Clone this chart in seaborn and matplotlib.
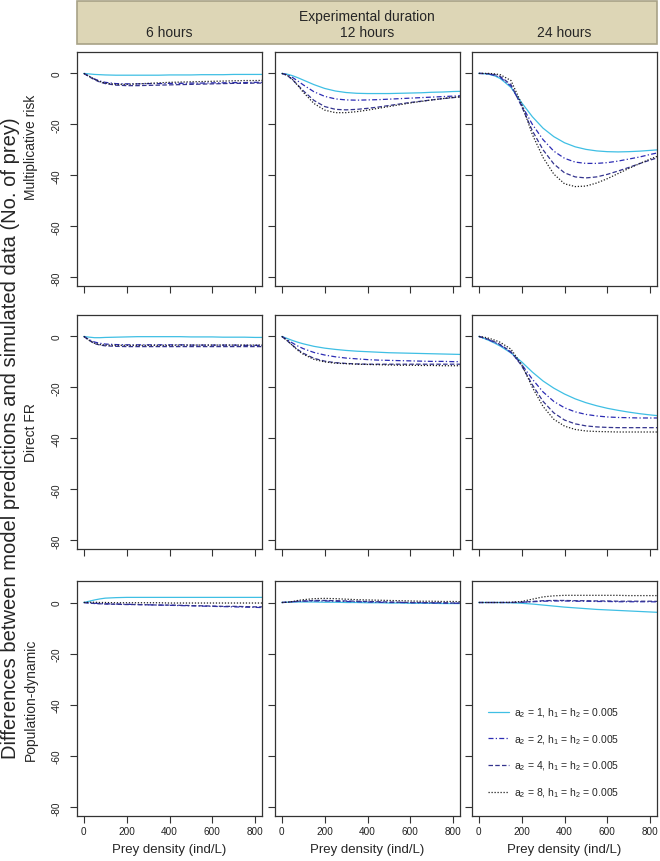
import numpy as np
import pandas as pd
import seaborn as sns
import matplotlib.pyplot as plt
from matplotlib.patches import Rectangle

# prey density grid (ind/L)
density = [0, 25, 50, 75, 100, 150, 200, 250, 300, 350, 400, 450, 500, 550, 600, 650, 700, 750, 800, 850]

durations = ["6 hours", "12 hours", "24 hours"]
models = ["Multiplicative risk", "Direct FR", "Population-dynamic"]
series = ["a2=1", "a2=2", "a2=4", "a2=8"]
series_labels = [r"a$_2$ = 1, h$_1$ = h$_2$ = 0.005",
                 r"a$_2$ = 2, h$_1$ = h$_2$ = 0.005",
                 r"a$_2$ = 4, h$_1$ = h$_2$ = 0.005",
                 r"a$_2$ = 8, h$_1$ = h$_2$ = 0.005"]

# Multiplicative risk
mr_6h_a1 = [0, -0.2, -0.4, -0.5, -0.6, -0.7, -0.7, -0.7, -0.7, -0.7, -0.6, -0.6, -0.6, -0.5, -0.5, -0.5, -0.4, -0.4, -0.4, -0.4]
mr_6h_a2 = [0, -1.2, -2.2, -3.0, -3.5, -4.0, -4.1, -4.1, -4.0, -4.0, -3.9, -3.9, -3.8, -3.8, -3.7, -3.7, -3.6, -3.6, -3.5, -3.5]
mr_6h_a4 = [0, -1.3, -2.5, -3.4, -4.0, -4.6, -4.8, -4.8, -4.7, -4.6, -4.5, -4.4, -4.3, -4.2, -4.1, -4.0, -3.9, -3.9, -3.8, -3.8]
mr_6h_a8 = [0, -1.1, -2.3, -3.2, -3.8, -4.3, -4.3, -4.1, -3.9, -3.7, -3.5, -3.4, -3.3, -3.2, -3.1, -3.0, -2.9, -2.8, -2.8, -2.7]

mr_12h_a1 = [0, -0.3, -0.9, -1.7, -2.6, -4.4, -5.9, -6.9, -7.5, -7.8, -7.9, -7.9, -7.9, -7.8, -7.7, -7.6, -7.4, -7.3, -7.1, -7.0]
mr_12h_a2 = [0, -0.5, -1.6, -3.0, -4.5, -7.2, -9.0, -10.0, -10.4, -10.5, -10.4, -10.3, -10.1, -9.9, -9.7, -9.5, -9.3, -9.1, -8.9, -8.7]
mr_12h_a4 = [0, -0.8, -2.5, -4.6, -6.8, -10.6, -13.0, -14.1, -14.3, -14.1, -13.7, -13.2, -12.6, -12.0, -11.4, -10.9, -10.4, -9.9, -9.5, -9.1]
mr_12h_a8 = [0, -0.7, -2.4, -4.8, -7.4, -11.8, -14.4, -15.4, -15.4, -15.0, -14.4, -13.7, -13.0, -12.3, -11.6, -11.0, -10.4, -9.9, -9.4, -9.0]

mr_24h_a1 = [0, -0.1, -0.4, -1.0, -2.0, -5.5, -11.5, -17.0, -21.5, -24.8, -27.2, -28.8, -29.8, -30.4, -30.7, -30.8, -30.7, -30.5, -30.2, -29.9]
mr_24h_a2 = [0, -0.1, -0.3, -0.8, -1.6, -5.0, -12.5, -20.0, -26.0, -30.5, -33.3, -34.8, -35.3, -35.3, -35.0, -34.4, -33.6, -32.8, -31.8, -30.9]
mr_24h_a4 = [0, 0, -0.2, -0.5, -1.2, -4.4, -13.0, -22.5, -30.0, -35.5, -39.0, -40.6, -41.0, -40.6, -39.6, -38.3, -36.9, -35.4, -34.0, -32.7]
mr_24h_a8 = [0, 0, 0, -0.2, -0.5, -2.8, -12.0, -24.0, -33.0, -39.5, -43.3, -44.4, -44.2, -43.0, -41.3, -39.3, -37.3, -35.4, -33.6, -32.0]

# Direct FR
fr_6h_a1 = [0, -0.3, -0.5, -0.5, -0.4, -0.3, -0.2, -0.1, -0.1, -0.1, -0.1, -0.1, -0.2, -0.2, -0.2, -0.3, -0.3, -0.3, -0.4, -0.4]
fr_6h_a2 = [0, -1.3, -2.2, -2.7, -3.0, -3.2, -3.3, -3.3, -3.3, -3.3, -3.3, -3.3, -3.4, -3.4, -3.4, -3.4, -3.4, -3.5, -3.5, -3.5]
fr_6h_a4 = [0, -1.6, -2.8, -3.4, -3.7, -3.9, -4.0, -4.0, -4.0, -4.0, -4.0, -4.0, -4.0, -4.0, -4.0, -4.0, -4.0, -4.0, -4.0, -4.0]
fr_6h_a8 = [0, -1.5, -2.7, -3.2, -3.4, -3.5, -3.5, -3.5, -3.5, -3.5, -3.5, -3.4, -3.4, -3.4, -3.4, -3.4, -3.4, -3.4, -3.4, -3.4]

fr_12h_a1 = [0, -0.8, -1.6, -2.3, -2.9, -3.9, -4.6, -5.1, -5.5, -5.8, -6.0, -6.2, -6.4, -6.5, -6.6, -6.7, -6.8, -6.9, -7.0, -7.1]
fr_12h_a2 = [0, -1.3, -2.6, -3.8, -4.8, -6.3, -7.3, -8.0, -8.5, -8.8, -9.1, -9.3, -9.4, -9.5, -9.6, -9.7, -9.8, -9.8, -9.9, -9.9]
fr_12h_a4 = [0, -1.7, -3.5, -5.2, -6.6, -8.6, -9.7, -10.3, -10.6, -10.8, -10.9, -10.9, -10.9, -10.9, -10.9, -10.9, -10.9, -10.9, -10.9, -10.9]
fr_12h_a8 = [0, -1.6, -3.6, -5.5, -7.0, -9.0, -10.0, -10.5, -10.7, -10.9, -11.0, -11.1, -11.2, -11.3, -11.3, -11.4, -11.4, -11.5, -11.5, -11.5]

fr_24h_a1 = [0, -0.8, -1.7, -2.7, -3.8, -6.5, -10.0, -14.0, -17.5, -20.3, -22.6, -24.5, -26.0, -27.2, -28.2, -29.0, -29.7, -30.3, -30.8, -31.2]
fr_24h_a2 = [0, -0.7, -1.5, -2.4, -3.4, -6.3, -11.0, -16.8, -21.8, -25.5, -28.0, -29.6, -30.6, -31.2, -31.6, -31.8, -31.9, -32.0, -32.0, -32.0]
fr_24h_a4 = [0, -0.6, -1.3, -2.2, -3.2, -6.0, -11.5, -19.0, -25.5, -30.0, -32.8, -34.3, -35.1, -35.5, -35.7, -35.8, -35.8, -35.8, -35.8, -35.8]
fr_24h_a8 = [0, -0.3, -0.8, -1.5, -2.3, -5.0, -11.0, -20.0, -27.5, -32.5, -35.2, -36.5, -37.1, -37.3, -37.4, -37.5, -37.5, -37.5, -37.5, -37.5]

# Population-dynamic
pd_6h_a1 = [0, 0.5, 1.0, 1.4, 1.7, 1.9, 2.0, 2.0, 2.0, 2.0, 2.0, 2.0, 2.0, 2.0, 2.0, 2.0, 2.0, 2.0, 2.0, 2.0]
pd_6h_a2 = [0, -0.2, -0.3, -0.4, -0.5, -0.6, -0.7, -0.8, -0.9, -1.0, -1.1, -1.2, -1.3, -1.4, -1.5, -1.6, -1.7, -1.8, -1.9, -2.0]
pd_6h_a4 = [0, -0.2, -0.4, -0.5, -0.6, -0.7, -0.8, -0.8, -0.9, -1.0, -1.0, -1.1, -1.2, -1.3, -1.4, -1.5, -1.5, -1.6, -1.7, -1.7]
pd_6h_a8 = [0, 0.1, 0.1, 0.0, 0.0, -0.1, -0.1, -0.1, -0.1, -0.1, -0.2, -0.2, -0.2, -0.2, -0.2, -0.2, -0.2, -0.2, -0.2, -0.2]

pd_12h_a1 = [0, 0.1, 0.2, 0.2, 0.2, 0.2, 0.1, 0.1, 0.0, 0.0, -0.1, -0.1, -0.2, -0.2, -0.3, -0.3, -0.3, -0.4, -0.4, -0.4]
pd_12h_a2 = [0, 0.1, 0.3, 0.4, 0.5, 0.6, 0.6, 0.5, 0.4, 0.3, 0.2, 0.1, 0.0, 0.0, -0.1, -0.1, -0.2, -0.2, -0.3, -0.3]
pd_12h_a4 = [0, 0.1, 0.3, 0.5, 0.6, 0.8, 0.8, 0.7, 0.6, 0.5, 0.4, 0.3, 0.2, 0.1, 0.0, 0.0, -0.1, -0.1, -0.2, -0.2]
pd_12h_a8 = [0, 0.1, 0.4, 0.8, 1.1, 1.5, 1.6, 1.5, 1.3, 1.1, 1.0, 0.9, 0.8, 0.7, 0.6, 0.5, 0.5, 0.4, 0.4, 0.3]

pd_24h_a1 = [0, 0, 0, 0, 0, -0.1, -0.3, -0.6, -1.0, -1.4, -1.8, -2.1, -2.4, -2.7, -2.9, -3.1, -3.3, -3.5, -3.7, -3.9]
pd_24h_a2 = [0, 0, 0, 0, 0, 0, 0.1, 0.3, 0.5, 0.6, 0.6, 0.5, 0.5, 0.4, 0.4, 0.3, 0.3, 0.3, 0.3, 0.2]
pd_24h_a4 = [0, 0, 0, 0, 0, 0, 0.1, 0.4, 0.7, 0.8, 0.8, 0.7, 0.7, 0.6, 0.6, 0.5, 0.5, 0.5, 0.5, 0.4]
pd_24h_a8 = [0, 0, 0, 0, 0, 0.1, 0.4, 1.3, 2.2, 2.6, 2.8, 2.8, 2.8, 2.8, 2.8, 2.8, 2.7, 2.7, 2.7, 2.7]

panels = {
    ("Multiplicative risk", "6 hours"): [mr_6h_a1, mr_6h_a2, mr_6h_a4, mr_6h_a8],
    ("Multiplicative risk", "12 hours"): [mr_12h_a1, mr_12h_a2, mr_12h_a4, mr_12h_a8],
    ("Multiplicative risk", "24 hours"): [mr_24h_a1, mr_24h_a2, mr_24h_a4, mr_24h_a8],
    ("Direct FR", "6 hours"): [fr_6h_a1, fr_6h_a2, fr_6h_a4, fr_6h_a8],
    ("Direct FR", "12 hours"): [fr_12h_a1, fr_12h_a2, fr_12h_a4, fr_12h_a8],
    ("Direct FR", "24 hours"): [fr_24h_a1, fr_24h_a2, fr_24h_a4, fr_24h_a8],
    ("Population-dynamic", "6 hours"): [pd_6h_a1, pd_6h_a2, pd_6h_a4, pd_6h_a8],
    ("Population-dynamic", "12 hours"): [pd_12h_a1, pd_12h_a2, pd_12h_a4, pd_12h_a8],
    ("Population-dynamic", "24 hours"): [pd_24h_a1, pd_24h_a2, pd_24h_a4, pd_24h_a8],
}

rows = []
for (model, dur), vals in panels.items():
    for s, v in zip(series, vals):
        for x, y in zip(density, v):
            rows.append((model, dur, s, x, y))
df = pd.DataFrame(rows, columns=["model", "duration", "series", "density", "diff"])

palette = {"a2=1": "#3fbfe4", "a2=2": "#2c2cb4", "a2=4": "#34348e", "a2=8": "#1e1e1e"}
dashes = {"a2=1": "", "a2=2": (4, 1.8, 1, 1.8), "a2=4": (3.6, 1.8), "a2=8": (1, 1.4)}

sns.set_style("ticks")
plt.rcParams["font.family"] = ["Liberation Sans", "DejaVu Sans"]
plt.rcParams["mathtext.default"] = "regular"

W, H = 660, 862
fig = plt.figure(figsize=(W / 100, H / 100), dpi=100)

col_x = [77, 275, 472]
col_w = 185
row_y = [(53, 287), (316, 550), (582, 817)]

# header box
hdr = Rectangle((77 / W, 1 - 45 / H), (657 - 77) / W, 43 / H, transform=fig.transFigure,
                facecolor="#ddd6b6", edgecolor="#a8a286", linewidth=1.2)
fig.patches.append(hdr)
fig.text((77 + 657) / 2 / W, 1 - 17 / H, "Experimental duration", ha="center", va="center", fontsize=10)
for j, dur in enumerate(durations):
    fig.text((col_x[j] + col_w / 2) / W, 1 - 33 / H, dur, ha="center", va="center", fontsize=10)

for i, model in enumerate(models):
    top, bot = row_y[i]
    for j, dur in enumerate(durations):
        ax = fig.add_axes([col_x[j] / W, 1 - bot / H, col_w / W, (bot - top) / H])
        sub = df[(df["model"] == model) & (df["duration"] == dur)]
        sns.lineplot(data=sub, x="density", y="diff", hue="series", style="series",
                     palette=palette, dashes=dashes, estimator=None, linewidth=0.9,
                     legend=False, ax=ax)
        ax.set_xlim(-32, 832)
        ax.set_ylim(-83.4, 8.4)
        ax.set_xticks([0, 200, 400, 600, 800])
        ax.set_yticks([0, -20, -40, -60, -80])
        ax.tick_params(length=5, width=0.8, color="#333333", labelsize=7.2, labelcolor="#222222")
        ax.tick_params(axis="x", pad=2)
        ax.tick_params(axis="y", pad=6)
        for sp in ax.spines.values():
            sp.set_color("#333333")
            sp.set_linewidth(0.9)
        ax.set_ylabel("")
        ax.set_xlabel("")
        if j == 0:
            ax.set_yticklabels(["0", "-20", "-40", "-60", "-80"], rotation=90, va="center")
        else:
            ax.set_yticklabels([])
        if i == 2:
            ax.set_xlabel("Prey density (ind/L)", fontsize=9.5, labelpad=5)
        else:
            ax.set_xticklabels([])
        if i == 2 and j == 2:
            handles = ax.get_lines()[:4]
            ax.legend(handles, series_labels, loc="lower left", frameon=False,
                      bbox_to_anchor=((488 - 472) / col_w, (817 - 800) / 235),
                      fontsize=7.5, handlelength=2.0, handletextpad=0.5,
                      labelspacing=1.25, borderpad=0, borderaxespad=0)

label_y = [147, 433, 700]
for model, yc in zip(models, label_y):
    fig.text(31 / W, 1 - yc / H, model, rotation=90, ha="center", va="center", fontsize=10)

fig.text(11 / W, 1 - 438 / H, "Differences between model predictions and simulated data (No. of prey)",
         rotation=90, ha="center", va="center", fontsize=14.5)

fig.savefig("out.png", dpi=100)
